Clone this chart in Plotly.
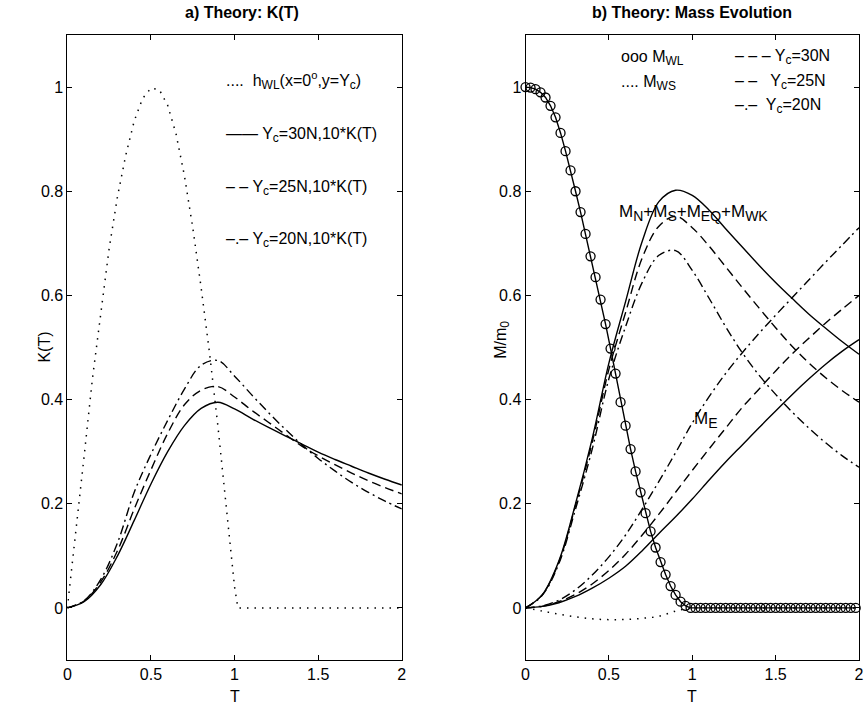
import plotly.graph_objects as go

# ---------------- Panel a: K(T) ----------------
TA = [0.0, 0.1, 0.2, 0.3, 0.4, 0.5, 0.6, 0.7, 0.8, 0.9, 1.0,
      1.1, 1.2, 1.3, 1.4, 1.5, 1.6, 1.7, 1.8, 1.9, 2.0]
K30 = [0, 0.012, 0.045, 0.100, 0.168, 0.238, 0.300, 0.350, 0.383, 0.395, 0.382,
       0.364, 0.347, 0.331, 0.315, 0.299, 0.285, 0.272, 0.259, 0.247, 0.236]
K25 = [0, 0.013, 0.050, 0.110, 0.190, 0.265, 0.335, 0.390, 0.418, 0.425, 0.405,
       0.380, 0.357, 0.334, 0.311, 0.292, 0.275, 0.259, 0.244, 0.231, 0.219]
K20 = [0, 0.014, 0.055, 0.125, 0.222, 0.295, 0.360, 0.420, 0.466, 0.475, 0.445,
       0.410, 0.376, 0.344, 0.314, 0.287, 0.263, 0.241, 0.222, 0.205, 0.190]
TH = [0.0, 0.05, 0.1, 0.15, 0.2, 0.25, 0.3, 0.35, 0.4, 0.45, 0.5, 0.55, 0.6,
      0.65, 0.7, 0.75, 0.8, 0.85, 0.9, 0.95, 1.0, 1.02, 2.0]
HWL = [0, 0.14, 0.29, 0.44, 0.57, 0.69, 0.79, 0.87, 0.935, 0.978, 0.998, 0.995, 0.965,
       0.91, 0.83, 0.73, 0.615, 0.49, 0.35, 0.195, 0.04, 0, 0]

# ---------------- Panel b: Mass evolution ----------------
TB = [0.0, 0.1, 0.2, 0.3, 0.4, 0.5, 0.6, 0.7, 0.8, 0.9, 1.0,
      1.1, 1.2, 1.3, 1.4, 1.5, 1.6, 1.7, 1.8, 1.9, 2.0]
MN30 = [0, 0.025, 0.090, 0.200, 0.325, 0.470, 0.588, 0.704, 0.780, 0.802, 0.792,
        0.764, 0.728, 0.693, 0.658, 0.625, 0.594, 0.564, 0.537, 0.511, 0.487]
MN25 = [0, 0.025, 0.088, 0.197, 0.318, 0.458, 0.567, 0.672, 0.733, 0.752, 0.730,
        0.695, 0.655, 0.615, 0.576, 0.538, 0.502, 0.470, 0.442, 0.417, 0.395]
MN20 = [0, 0.024, 0.085, 0.190, 0.305, 0.440, 0.540, 0.625, 0.677, 0.686, 0.648,
        0.595, 0.540, 0.490, 0.447, 0.410, 0.376, 0.345, 0.317, 0.292, 0.270]
ME30 = [0, 0.003, 0.010, 0.022, 0.038, 0.057, 0.080, 0.110, 0.143, 0.175, 0.209,
        0.245, 0.280, 0.313, 0.346, 0.378, 0.410, 0.440, 0.468, 0.493, 0.515]
ME25 = [0, 0.003, 0.012, 0.026, 0.046, 0.072, 0.103, 0.140, 0.180, 0.222, 0.264,
        0.305, 0.345, 0.385, 0.420, 0.455, 0.488, 0.518, 0.547, 0.574, 0.600]
ME20 = [0, 0.004, 0.015, 0.035, 0.063, 0.098, 0.140, 0.190, 0.243, 0.298, 0.355,
        0.405, 0.450, 0.490, 0.527, 0.562, 0.596, 0.630, 0.664, 0.697, 0.730]
MWS = [0, -0.006, -0.012, -0.017, -0.021, -0.0225, -0.022, -0.020, -0.016, -0.006, 0,
       0, 0, 0, 0, 0, 0, 0, 0, 0, 0]
TW = [0.00, 0.03, 0.06, 0.09, 0.12, 0.15, 0.18, 0.21, 0.24, 0.27, 0.30, 0.33,
      0.36, 0.39, 0.42, 0.45, 0.48, 0.51, 0.54, 0.57, 0.60, 0.63, 0.66, 0.69,
      0.72, 0.75, 0.78, 0.81, 0.84, 0.87, 0.90, 0.93, 0.96, 0.99, 1.02, 1.05,
      1.08, 1.11, 1.14, 1.17, 1.20, 1.23, 1.26, 1.29, 1.32, 1.35, 1.38, 1.41,
      1.44, 1.47, 1.50, 1.53, 1.56, 1.59, 1.62, 1.65, 1.68, 1.71, 1.74, 1.77,
      1.80, 1.83, 1.86, 1.89, 1.92, 1.95, 1.98]
MWL = [1.000, 0.999, 0.996, 0.990, 0.980, 0.964, 0.942, 0.912, 0.877, 0.840, 0.800, 0.760,
       0.718, 0.675, 0.635, 0.592, 0.545, 0.498, 0.450, 0.395, 0.350, 0.305, 0.262, 0.222,
       0.182, 0.147, 0.116, 0.088, 0.064, 0.042, 0.025, 0.012, 0.004, 0.000, 0, 0,
       0, 0, 0, 0, 0, 0, 0, 0, 0, 0, 0, 0,
       0, 0, 0, 0, 0, 0, 0, 0, 0, 0, 0, 0,
       0, 0, 0, 0, 0, 0, 0]

XTICKS = [0, 0.5, 1, 1.5, 2]
XTICKTEXT = ["0", "0.5", "1", "1.5", "2"]
YTICKS = [0, 0.2, 0.4, 0.6, 0.8, 1]
YTICKTEXT = ["0", "0.2", "0.4", "0.6", "0.8", "1"]

W, H = 865, 704
FONT = "Liberation Sans, Arial, Helvetica, sans-serif"
LW = 1.4
DOT = "1.5px,6px"
DASH = "9px,5px"
DASHDOT = "9px,4px,2px,4px"


def px(x):
    return x / W


def py(y):
    return 1 - y / H


fig = go.Figure()

# panel a
fig.add_trace(go.Scatter(x=TH, y=HWL, mode="lines", xaxis="x", yaxis="y",
                         line=dict(color="black", width=1.5, dash=DOT)))
fig.add_trace(go.Scatter(x=TA, y=K30, mode="lines", xaxis="x", yaxis="y",
                         line=dict(color="black", width=LW, shape="spline")))
fig.add_trace(go.Scatter(x=TA, y=K25, mode="lines", xaxis="x", yaxis="y",
                         line=dict(color="black", width=LW, dash=DASH, shape="spline")))
fig.add_trace(go.Scatter(x=TA, y=K20, mode="lines", xaxis="x", yaxis="y",
                         line=dict(color="black", width=LW, dash=DASHDOT, shape="spline")))

# panel b
fig.add_trace(go.Scatter(x=TB, y=MWS, mode="lines", xaxis="x2", yaxis="y2",
                         line=dict(color="black", width=1.5, dash=DOT, shape="spline")))
for yv, d in ((MN30, "solid"), (MN25, DASH), (MN20, DASHDOT)):
    fig.add_trace(go.Scatter(x=TB, y=yv, mode="lines", xaxis="x2", yaxis="y2",
                             line=dict(color="black", width=LW, dash=d, shape="spline")))
for yv, d in ((ME30, "solid"), (ME25, DASH), (ME20, DASHDOT)):
    fig.add_trace(go.Scatter(x=TB, y=yv, mode="lines", xaxis="x2", yaxis="y2",
                             line=dict(color="black", width=LW, dash=d, shape="spline")))
fig.add_trace(go.Scatter(x=TW, y=MWL, mode="lines+markers", xaxis="x2", yaxis="y2",
                         cliponaxis=False,
                         line=dict(color="black", width=LW),
                         marker=dict(symbol="circle-open", size=9, color="black",
                                     line=dict(color="black", width=1.3))))

axis_common = dict(showline=True, linecolor="black", linewidth=1, mirror="ticks",
                   ticks="inside", ticklen=5, tickcolor="black", tickwidth=1,
                   showgrid=False, zeroline=False,
                   tickfont=dict(family=FONT, size=16, color="black"))

fig.update_layout(
    width=W, height=H, margin=dict(l=0, r=0, t=0, b=0),
    paper_bgcolor="white", plot_bgcolor="white", showlegend=False,
    xaxis=dict(domain=[px(64), px(402)], range=[0, 2], anchor="y",
               tickvals=XTICKS, ticktext=XTICKTEXT, **axis_common),
    yaxis=dict(domain=[py(660), py(35)], range=[-0.1, 1.1], anchor="x",
               tickvals=YTICKS, ticktext=YTICKTEXT, **axis_common),
    xaxis2=dict(domain=[px(527), px(864)], range=[0, 2], anchor="y2",
                tickvals=XTICKS, ticktext=XTICKTEXT, **axis_common),
    yaxis2=dict(domain=[py(660), py(35)], range=[-0.1, 1.1], anchor="x2",
                tickvals=YTICKS, ticktext=YTICKTEXT, **axis_common),
)

ann = []


def add_text(x, y, text, size=16, xanchor="left", angle=0):
    ann.append(dict(x=px(x), y=py(y), xref="paper", yref="paper", text=text,
                    showarrow=False, xanchor=xanchor, yanchor="middle",
                    textangle=angle,
                    font=dict(family=FONT, size=size, color="black")))


def sub(s, size=13):
    return "<sub><span style='font-size:%dpx'>%s</span></sub>" % (size, s)


add_text(241, 13, "<b>a) Theory: K(T)</b>", size=16, xanchor="center")
add_text(695, 13, "<b>b) Theory: Mass Evolution</b>", size=16, xanchor="center")
add_text(233, 696, "T", size=16, xanchor="center")
add_text(695, 696, "T", size=16, xanchor="center")
add_text(40, 347, "K(T)", size=16, xanchor="center", angle=-90)
add_text(503, 340, "M/m" + sub("0", 12), size=16, xanchor="center", angle=-90)

# panel a legend text
add_text(222, 80, "....  h" + sub("WL", 12) + "(x=0<sup>o</sup>,y=Y" + sub("c", 12) + ")")
add_text(222, 135, "—— Y" + sub("c", 12) + "=30N,10*K(T)")
add_text(222, 188, "– – Y" + sub("c", 12) + "=25N,10*K(T)")
add_text(222, 240, "–.– Y" + sub("c", 12) + "=20N,10*K(T)")

# panel b legend text
add_text(621, 58, "ooo M" + sub("WL", 12))
add_text(621, 83, ".... M" + sub("WS", 12))
add_text(737, 57, "– – – Y" + sub("c", 12) + "=30N")
add_text(737, 82, "– –   Y" + sub("c", 12) + "=25N")
add_text(737, 106, "–.–  Y" + sub("c", 12) + "=20N")

add_text(619, 213, "M" + sub("N", 14) + "+M" + sub("S", 14) + "+M" + sub("EQ", 14)
         + "+M" + sub("WK", 14), size=17)
add_text(695, 420, "M" + sub("E", 14), size=17)

fig.update_layout(annotations=ann)
fig.write_html("out.html")
